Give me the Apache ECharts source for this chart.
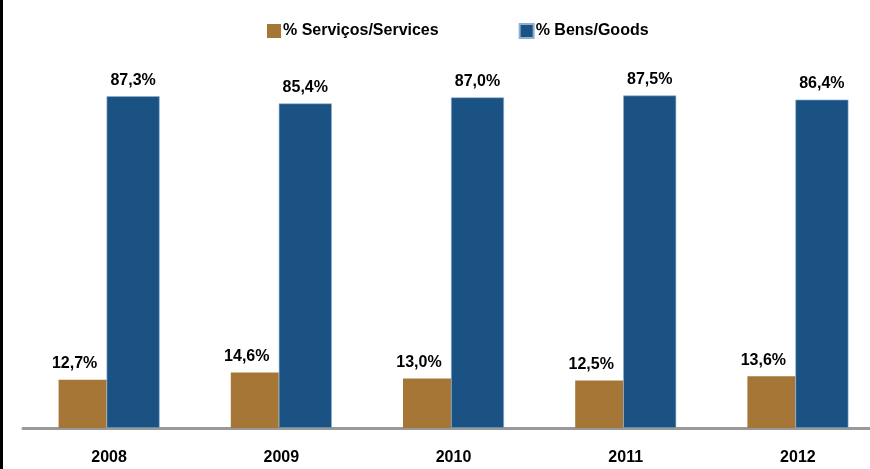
<!DOCTYPE html>
<html style="height: 100%">
<head>
  <meta charset="utf-8">
</head>
<body style="height: 100%; margin: 0; background: #fff; overflow: hidden">
  <div id="container" style="width: 884px; height: 469px"></div>
  <script type="text/javascript" src="https://cdn.jsdelivr.net/npm/echarts@6/dist/echarts.min.js"></script>
  <script type="text/javascript">
    var years = ['2008', '2009', '2010', '2011', '2012'];
    var servicos = [12.7, 14.6, 13.0, 12.5, 13.6];
    var bens = [87.3, 85.4, 87.0, 87.5, 86.4];
    var seriesNames = ['% Serviços/Services', '% Bens/Goods'];

    var FONT = '"Liberation Sans", Arial, sans-serif';
    var dom = document.getElementById('container');
    // chart runs a bit past the right edge of the window, as in the original
    var myChart = echarts.init(dom, null, { renderer: 'canvas' });

    function pct(p) {
      return p.value.toFixed(1).replace('.', ',') + '%';
    }

    var option = {
      animation: false,
      backgroundColor: '#fff',
      legend: {
        top: 23,
        left: 267,
        padding: 0,
        itemWidth: 14,
        itemHeight: 14,
        itemGap: 80,
        icon: 'rect',
        textStyle: { fontFamily: FONT, fontWeight: 'bold', fontSize: 16, color: '#000', padding: [0, 0, 0, -3] },
        data: seriesNames
      },
      grid: { left: 23, right: 0, top: 48, bottom: 41 },
      xAxis: {
        type: 'category',
        data: years,
        axisLine: { lineStyle: { color: '#999', width: 3 } },
        axisTick: { show: false },
        axisLabel: { margin: 22, fontFamily: FONT, fontWeight: 'bold', fontSize: 16, color: '#000' }
      },
      yAxis: {
        type: 'value',
        min: 0,
        max: 100,
        show: false,
        splitLine: { show: false }
      },
      series: [
        {
          name: seriesNames[0],
          type: 'bar',
          data: servicos,
          barWidth: 48,
          barGap: '0%',
          itemStyle: { color: '#A57636' },
          label: {
            show: true, position: 'top', distance: 8, offset: [-8, 0],
            formatter: pct,
            fontFamily: FONT, fontWeight: 'bold', fontSize: 16, color: '#000'
          }
        },
        {
          name: seriesNames[1],
          type: 'bar',
          data: bens,
          barWidth: 53,
          itemStyle: { color: '#1A5283', borderColor: '#8fb0d0', borderWidth: 0.6 },
          label: {
            show: true, position: 'top', distance: 8,
            formatter: pct,
            fontFamily: FONT, fontWeight: 'bold', fontSize: 16, color: '#000'
          }
        }
      ],
      graphic: [
        { type: 'rect', left: 0, top: 0, shape: { width: 3, height: 469 }, style: { fill: '#000' } }
      ]
    };

    myChart.setOption(option);
    window.addEventListener('resize', myChart.resize);
  </script>
</body>
</html>
